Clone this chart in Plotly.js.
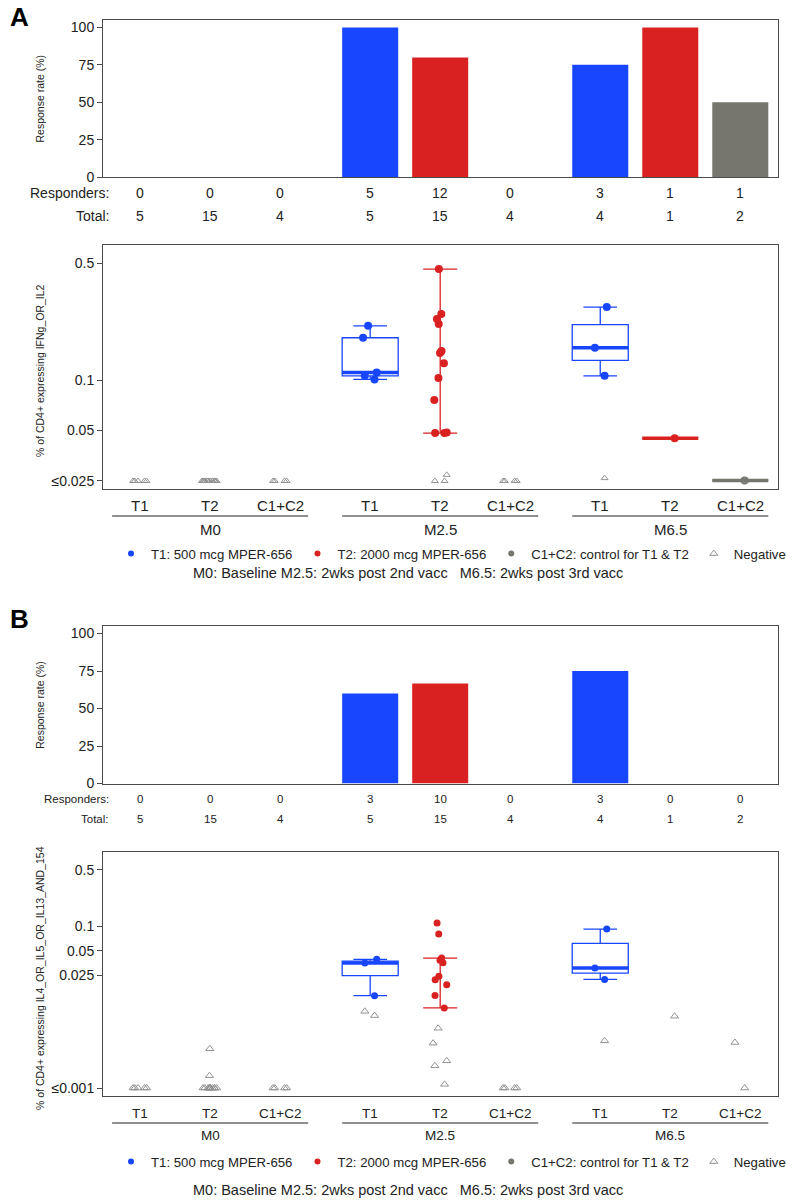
<!DOCTYPE html>
<html>
<head>
<meta charset="utf-8">
<script src="https://cdn.plot.ly/plotly-3.0.1.min.js"></script>
<style>body{margin:0;background:#fff}</style>
</head>
<body>
<div id="chart" style="width:800px;height:1200px"></div>
<script>
// groups and arms, slots run time-major: M0 T1, M0 T2, M0 C, M2.5 T1, ...
var timepoints = ['M0', 'M2.5', 'M6.5'];
var arms = ['T1', 'T2', 'C1+C2'];
var armNames = ['T1: 500 mcg MPER-656', 'T2: 2000 mcg MPER-656', 'C1+C2: control for T1 & T2'];
var armColors = ['#1846ff', '#d92121', '#76766f'];
var caption = 'M0: Baseline M2.5: 2wks post 2nd vacc\u00a0\u00a0\u00a0M6.5: 2wks post 3rd vacc';

// panel A: IFNg or IL2
var respondersA = [0, 0, 0, 5, 12, 0, 3, 1, 1];
var totalsA = [5, 15, 4, 5, 15, 4, 4, 1, 2];
var valuesA = [
  [], [], [],
  [0.211, 0.179, 0.111, 0.106, 0.101],
  [0.460, 0.248, 0.232, 0.216, 0.149, 0.145, 0.126, 0.103, 0.076, 0.0483, 0.0483, 0.0486],
  [],
  [0.273, 0.156, 0.106],
  [0.045],
  [0.0252]
];
var negativesA = [
  [0.025, 0.025, 0.025, 0.025, 0.025],
  [0.025, 0.025, 0.025, 0.025, 0.025, 0.025, 0.025, 0.025, 0.025, 0.025, 0.025, 0.025, 0.025, 0.025, 0.025],
  [0.025, 0.025, 0.025, 0.025],
  [],
  [0.0272, 0.025, 0.025],
  [0.025, 0.025, 0.025, 0.025],
  [0.026],
  [],
  [0.025]
];
var yTickValsA = [0.025, 0.05, 0.1, 0.5];
var yTickTextA = ['\u22640.025', '0.05', '0.1', '0.5'];
var yTitleA = '% of CD4+ expressing IFNg_OR_IL2';

// panel B: IL4 or IL5 or IL13 and 154
var respondersB = [0, 0, 0, 3, 10, 0, 3, 0, 0];
var totalsB = [5, 15, 4, 5, 15, 4, 4, 1, 2];
var valuesB = [
  [], [], [],
  [0.0391, 0.0352, 0.0139],
  [0.110, 0.0804, 0.0406, 0.0380, 0.0356, 0.0241, 0.0219, 0.0190, 0.0140, 0.0098],
  [],
  [0.0927, 0.0306, 0.0221],
  [],
  []
];
var negativesB = [
  [0.001, 0.001, 0.001, 0.001, 0.001],
  [0.00306, 0.00142, 0.001, 0.001, 0.001, 0.001, 0.001, 0.001, 0.001, 0.001, 0.001, 0.001, 0.001, 0.001, 0.001],
  [0.001, 0.001, 0.001, 0.001],
  [0.00788, 0.0089],
  [0.00549, 0.00359, 0.00217, 0.00189, 0.00111],
  [0.001, 0.001, 0.001, 0.001],
  [0.00384],
  [0.00773],
  [0.00366, 0.001]
];
var yTickValsB = [0.001, 0.025, 0.05, 0.1, 0.5];
var yTickTextB = ['\u22640.001', '0.025', '0.05', '0.1', '0.5'];
var yTitleB = '% of CD4+ expressing IL4_OR_IL5_OR_IL13_AND_154';

var rateTicks = [0, 25, 50, 75, 100];

var FONT = '"Liberation Sans", Arial, Helvetica, sans-serif';
var H = 1200, W = 800;
function py(px) { return 1 - px / H; }
var GROUP_STEP = 3 + 2 / 7;
function slotPos(s) { return 1 + Math.floor(s / 3) * GROUP_STEP + s % 3; }
var XRANGE = [0.47, 10.11];
var XDOMAIN = [103 / W, 778 / W];
var AXCOL = '#4a4a4a';

function quart(v) {
  var s = v.slice().sort(function (a, b) { return a - b; });
  var n = s.length;
  function med(a) { var m = a.length; return m % 2 ? a[(m - 1) / 2] : (a[m / 2 - 1] + a[m / 2]) / 2; }
  var half = Math.ceil(n / 2);
  var q1 = med(s.slice(0, half)), q3 = med(s.slice(n - half));
  var iqr = q3 - q1;
  var lo = s.filter(function (x) { return x >= q1 - 1.5 * iqr; })[0];
  var hiArr = s.filter(function (x) { return x <= q3 + 1.5 * iqr; });
  return { med: med(s), lo: lo, hi: hiArr[hiArr.length - 1] };
}

var panels = [
  { letter: 'A', letterY: 17, bar: [20, 177], box: [245, 489], respY: 193, totalY: 216, rowFont: 14,
    armY: 506, armFont: 15, lineY: 516, timeY: 529, timeFont: 15, legendY: 554, captionY: 573,
    responders: respondersA, totals: totalsA, values: valuesA, negatives: negativesA,
    yTitle: yTitleA, tickVals: yTickValsA, tickText: yTickTextA, yRange: [-1.65, -0.1935],
    pointSize: 8, triSize: 6 },
  { letter: 'B', letterY: 619, bar: [626, 783.5], box: [852, 1096], respY: 799, totalY: 819, rowFont: 11.5,
    armY: 1113, armFont: 13.5, lineY: 1123, timeY: 1135, timeFont: 13.5, legendY: 1162, captionY: 1190,
    responders: respondersB, totals: totalsB, values: valuesB, negatives: negativesB,
    yTitle: yTitleB, tickVals: yTickValsB, tickText: yTickTextB, yRange: [-3.099, -0.079],
    pointSize: 7, triSize: 7 }
];

var data = [], shapes = [], annotations = [];
var layout = {
  width: W, height: H, margin: { l: 0, r: 0, t: 0, b: 0, autoexpand: false },
  paper_bgcolor: '#fff', plot_bgcolor: '#fff',
  font: { family: FONT, color: '#222' },
  showlegend: true, barmode: 'overlay'
};

panels.forEach(function (p, pi) {
  var xb = pi * 2 + 1, xx = pi * 2 + 2;
  var xBar = 'x' + xb, yBar = 'y' + xb, xBox = 'x' + xx, yBox = 'y' + xx;
  var slots = p.responders.map(function (_, s) { return s; });
  var pos = slots.map(slotPos);

  // response rate bars
  arms.forEach(function (arm, a) {
    var idx = slots.filter(function (s) { return s % 3 === a; });
    data.push({
      type: 'bar', xaxis: xBar, yaxis: yBar, showlegend: false, hoverinfo: 'skip',
      x: idx.map(function (s) { return pos[s]; }),
      y: idx.map(function (s) { return p.responders[s] / p.totals[s] * 100; }),
      width: 0.8, marker: { color: armColors[a], line: { width: 0 } }
    });
  });

  // boxes with responders, triangles for negatives
  slots.forEach(function (s) {
    var a = s % 3, t = Math.floor(s / 3);
    var v = p.values[s];
    if (v.length) {
      var whiskerOnly = arms[a] === 'T2' && timepoints[t] === 'M2.5';
      data.push({
        type: 'box', xaxis: xBox, yaxis: yBox, showlegend: false, hoverinfo: 'skip',
        x: v.map(function () { return pos[s]; }), y: v,
        boxpoints: 'all', jitter: 0.3, pointpos: 0, width: 0.8, whiskerwidth: 0.6,
        quartilemethod: 'inclusive',
        fillcolor: 'rgba(0,0,0,0)',
        line: { color: whiskerOnly ? 'rgba(0,0,0,0)' : armColors[a], width: whiskerOnly ? 0 : 1.3 },
        marker: { color: armColors[a], size: p.pointSize }
      });
      var q = quart(v);
      if (whiskerOnly) {
        data.push({
          type: 'scatter', mode: 'markers', xaxis: xBox, yaxis: yBox, showlegend: false, hoverinfo: 'skip',
          x: [pos[s]], y: [q.lo], marker: { size: 1, opacity: 0 },
          error_y: { type: 'data', symmetric: false, array: [q.hi - q.lo], arrayminus: [0],
            width: 17, thickness: 1.3, color: armColors[a] }
        });
      } else {
        shapes.push({ type: 'line', xref: xBox, yref: yBox, x0: pos[s] - 0.4, x1: pos[s] + 0.4,
          y0: q.med, y1: q.med, line: { color: armColors[a], width: 3.5 } });
      }
    }
    var n = p.negatives[s];
    if (n.length) {
      data.push({
        type: 'box', xaxis: xBox, yaxis: yBox, showlegend: false, hoverinfo: 'skip',
        x: n.map(function () { return pos[s]; }), y: n,
        boxpoints: 'all', jitter: 0.3, pointpos: 0, width: 0.8,
        fillcolor: 'rgba(0,0,0,0)', line: { color: 'rgba(0,0,0,0)', width: 0 },
        marker: { color: '#939393', size: p.triSize, symbol: 'triangle-up-open', line: { width: 1 } }
      });
    }
    // responder / total rows
    annotations.push({ xref: xBar, yref: 'paper', x: pos[s], y: py(p.respY), yanchor: 'middle',
      text: String(p.responders[s]), showarrow: false, font: { size: p.rowFont } });
    annotations.push({ xref: xBar, yref: 'paper', x: pos[s], y: py(p.totalY), yanchor: 'middle',
      text: String(p.totals[s]), showarrow: false, font: { size: p.rowFont } });
  });

  annotations.push({ xref: 'paper', yref: 'paper', x: 111 / W, xanchor: 'right', y: py(p.respY), yanchor: 'middle',
    text: 'Responders:', showarrow: false, font: { size: p.rowFont } });
  annotations.push({ xref: 'paper', yref: 'paper', x: 111 / W, xanchor: 'right', y: py(p.totalY), yanchor: 'middle',
    text: 'Total:', showarrow: false, font: { size: p.rowFont } });

  // arm and timepoint labels under the box plot
  slots.forEach(function (s) {
    annotations.push({ xref: xBox, yref: 'paper', x: pos[s], y: py(p.armY), yanchor: 'middle',
      text: arms[s % 3], showarrow: false, font: { size: p.armFont } });
  });
  timepoints.forEach(function (tp, t) {
    var first = pos[t * 3], last = pos[t * 3 + 2];
    shapes.push({ type: 'line', xref: xBox, yref: 'paper', x0: first - 0.4, x1: last + 0.4,
      y0: py(p.lineY), y1: py(p.lineY), line: { color: '#222', width: 1.2 } });
    annotations.push({ xref: xBox, yref: 'paper', x: pos[t * 3 + 1], y: py(p.timeY), yanchor: 'middle',
      text: tp, showarrow: false, font: { size: p.timeFont } });
  });

  // panel letter, y titles, caption
  annotations.push({ xref: 'paper', yref: 'paper', x: 8 / W, xanchor: 'left', y: py(p.letterY), yanchor: 'middle',
    text: '<b>' + p.letter + '</b>', showarrow: false, font: { size: 26, color: '#000' } });
  annotations.push({ xref: 'paper', yref: 'paper', x: 40 / W, xanchor: 'center', y: py((p.bar[0] + p.bar[1]) / 2),
    yanchor: 'middle', textangle: -90, text: 'Response rate (%)', showarrow: false, font: { size: 10.5 } });
  annotations.push({ xref: 'paper', yref: 'paper', x: 40 / W, xanchor: 'center', y: py((p.box[0] + p.box[1]) / 2 + 4),
    yanchor: 'middle', textangle: -90, text: p.yTitle, showarrow: false, font: { size: 10.5 } });
  annotations.push({ xref: 'paper', yref: 'paper', x: 408 / W, y: py(p.captionY), yanchor: 'middle',
    text: caption, showarrow: false, font: { size: 14.5 } });

  var xCommon = { domain: XDOMAIN, range: XRANGE, showline: true, mirror: true, linecolor: AXCOL, linewidth: 1,
    zeroline: false, showgrid: false, showticklabels: false, ticks: '', fixedrange: true };
  layout['xaxis' + xb] = Object.assign({ anchor: yBar }, xCommon);
  layout['xaxis' + xx] = Object.assign({ anchor: yBox }, xCommon);
  layout['yaxis' + xb] = { anchor: xBar, domain: [py(p.bar[1]), py(p.bar[0])], range: [0, 105],
    tickvals: rateTicks, ticks: 'outside', ticklen: 5, tickcolor: AXCOL, tickfont: { size: 14 },
    showline: true, mirror: true, linecolor: AXCOL, zeroline: false, showgrid: false };
  layout['yaxis' + xx] = { anchor: xBox, domain: [py(p.box[1]), py(p.box[0])], type: 'log', range: p.yRange,
    tickvals: p.tickVals, ticktext: p.tickText, ticks: 'outside', ticklen: 5, tickcolor: AXCOL, tickfont: { size: 14 },
    showline: true, mirror: true, linecolor: AXCOL, zeroline: false, showgrid: false };

  // legend entries
  var legName = pi === 0 ? 'legend' : 'legend2';
  arms.forEach(function (arm, a) {
    data.push({ type: 'scatter', mode: 'markers', x: [null], y: [null], xaxis: xBox, yaxis: yBox,
      name: armNames[a], legend: legName, marker: { color: armColors[a], size: 6 } });
  });
  data.push({ type: 'scatter', mode: 'markers', x: [null], y: [null], xaxis: xBox, yaxis: yBox,
    name: 'Negative', legend: legName,
    marker: { color: '#939393', size: 7, symbol: 'triangle-up-open', line: { width: 1 } } });
  layout[legName] = { orientation: 'h', x: 111 / W, xanchor: 'left', y: py(p.legendY), yanchor: 'middle',
    font: { size: 13.2 }, bgcolor: 'rgba(0,0,0,0)', borderwidth: 0, itemwidth: 30 };
});

layout.shapes = shapes;
layout.annotations = annotations;

Plotly.newPlot('chart', data, layout, { staticPlot: true });
</script>
</body>
</html>
